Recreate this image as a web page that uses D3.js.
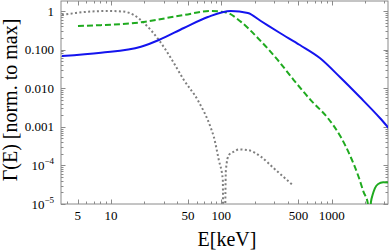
<!DOCTYPE html>
<html>
<head>
<meta charset="utf-8">
<script src="https://cdn.jsdelivr.net/npm/d3@7"></script>
<style>
  html, body { margin: 0; padding: 0; background: #fff; }
  svg { display: block; }
  text { font-family: "Liberation Serif", "Times New Roman", serif; fill: #000; }
</style>
</head>
<body>
<svg id="chart" width="392" height="251"></svg>
<script>
// ---- data (E in keV, Γ normalised to max) ----
const blueE = [3.6, 8.12, 18.7, 27.2, 45.8, 75.5, 122, 174, 228, 340, 515, 781, 1186, 1799, 2733, 3280];
const blueV = [0.068, 0.083, 0.119, 0.177, 0.363, 0.70, 1.0, 0.89, 0.55, 0.269, 0.1315, 0.0606, 0.0195, 0.0059, 0.00169, 0.00093];

const greenDashE = [5.03, 8.12, 18.7, 45.8, 80.4, 110, 150, 214, 324, 453, 646, 920, 1206, 1486, 1755, 1950, 2120, 2160];
const greenDashV = [0.41, 0.43, 0.51, 0.79, 1.0, 0.92, 0.53, 0.20, 0.054, 0.0163, 0.0049, 0.0017, 5.5e-4, 1.65e-4, 5.0e-5, 2.0e-5, 1.07e-5, 1e-7];

const greenSolidE = [2218, 2265, 2345, 2460, 2636, 2925, 3280];
const greenSolidV = [1e-7, 1.1e-5, 1.7e-5, 2.55e-5, 3.3e-5, 3.65e-5, 3.6e-5];

const grayE = [3.6, 4.82, 6.6, 9.6, 12.8, 16.1, 19.9, 27.2, 34.9, 45.8, 61.2, 80.4, 85.5, 94.9, 103.2, 104.7,
               106.4, 110, 117, 130, 144, 174, 228, 298, 443];
const grayV = [0.79, 0.89, 0.97, 1.0, 0.97, 0.79, 0.49, 0.177, 0.0606, 0.0163, 0.0049, 9.3e-4, 5.5e-4, 1.38e-4, 4.2e-5, 1e-7,
               1e-7, 7.6e-5, 1.86e-4, 2.26e-4, 2.6e-4, 2.5e-4, 1.69e-4, 8.5e-5, 3.1e-5];

const xMajorTicks = [5, 10, 50, 100, 500, 1000];
const xMinorTicks = [4, 6, 7, 8, 9, 20, 30, 40, 60, 70, 80, 90, 200, 300, 400, 600, 700, 800, 900, 2000, 3000];
const yMajorTicks = [1, 0.1, 0.01, 0.001, 1e-4, 1e-5];
const yTickLabels = ["1", "0.100", "0.010", "0.001", "10^-4", "10^-5"];

// ---- layout ----
const svg = d3.select("#chart");
const L = 61, R = 388, T = 1, B = 204;
const x = d3.scaleLog().domain([3.53, 3236]).range([L, R]);
const y = d3.scaleLog().domain([1e-5, Math.pow(10, 10 / 38.6)]).range([B, T]);

const frameColor = "#8a8a8a";

// clip
svg.append("defs").append("clipPath").attr("id", "clip")
  .append("rect").attr("x", L).attr("y", T).attr("width", R - L).attr("height", B - T);

// frame
svg.append("rect").attr("x", L).attr("y", T).attr("width", R - L).attr("height", B - T)
  .attr("fill", "none").attr("stroke", frameColor).attr("stroke-width", 1);

// ticks (inward, all four sides)
const tickG = svg.append("g").attr("stroke", frameColor).attr("stroke-width", 1);
function xTick(v, len) {
  const px = Math.round(x(v)) + 0.5;
  tickG.append("line").attr("x1", px).attr("x2", px).attr("y1", B).attr("y2", B - len);
  tickG.append("line").attr("x1", px).attr("x2", px).attr("y1", T).attr("y2", T + len);
}
xMajorTicks.forEach(v => xTick(v, 4.5));
xMinorTicks.forEach(v => xTick(v, 2.5));

const yMinor = [];
for (let k = -5; k <= 0; k++) for (let m = 2; m <= 9; m++) {
  const v = m * Math.pow(10, k);
  if (v <= y.domain()[1]) yMinor.push(v);
}
function yTick(v, len) {
  const py = Math.round(y(v)) + 0.5;
  tickG.append("line").attr("x1", L).attr("x2", L + len).attr("y1", py).attr("y2", py);
  tickG.append("line").attr("x1", R).attr("x2", R - len).attr("y1", py).attr("y2", py);
}
yMajorTicks.forEach(v => yTick(v, 4.5));
yMinor.forEach(v => yTick(v, 2.5));

// tick labels
svg.append("g").selectAll("text").data(xMajorTicks).join("text")
  .attr("x", d => x(d)).attr("y", 220).attr("text-anchor", "middle")
  .attr("font-size", 13).text(d => d);

const yl = svg.append("g");
yMajorTicks.forEach((v, i) => {
  const lab = yTickLabels[i];
  const t = yl.append("text").attr("x", 54).attr("y", y(v) + 4.5)
    .attr("text-anchor", "end").attr("font-size", 13);
  if (lab.includes("^")) {
    const [base, ex] = lab.split("^");
    t.append("tspan").text(base);
    t.append("tspan").attr("dy", -6).attr("font-size", 9).text(ex.replace("-", "\u2212"));
  } else {
    t.text(lab);
  }
});

// axis titles
svg.append("text").attr("x", 227).attr("y", 246).attr("text-anchor", "middle")
  .attr("font-size", 20).text("E[keV]");
svg.append("text").attr("transform", "translate(17,100) rotate(-90)")
  .attr("text-anchor", "middle").attr("font-size", 20).text("Γ(E) [norm. to max]");

// curves
const plot = svg.append("g").attr("clip-path", "url(#clip)");
const line = d3.line().x(d => x(d[0])).y(d => y(d[1])).curve(d3.curveMonotoneX);
function series(E, V, color, dash, w) {
  plot.append("path").datum(E.map((e, i) => [e, V[i]]))
    .attr("d", line).attr("fill", "none").attr("stroke", color)
    .attr("stroke-width", w).attr("stroke-dasharray", dash);
}
series(grayE, grayV, "#7f7f7f", "2,2.4", 2);
series(greenDashE, greenDashV, "#1faa1f", "6,3", 2);
series(greenSolidE, greenSolidV, "#1faa1f", null, 2);
series(blueE, blueV, "#1414ee", null, 2);
</script>
</body>
</html>
